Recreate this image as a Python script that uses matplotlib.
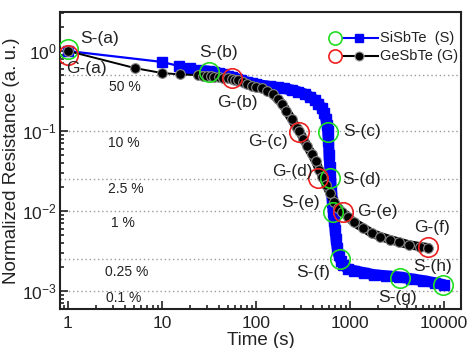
import matplotlib
matplotlib.use("Agg")
import matplotlib.pyplot as plt
from matplotlib.ticker import FixedLocator, NullFormatter, LogLocator
import numpy as np

plt.rcParams['font.family'] = ['Liberation Sans', 'DejaVu Sans']
plt.rcParams['mathtext.fontset'] = 'custom'
plt.rcParams['mathtext.rm'] = 'Liberation Sans'

# ---------------- data ----------------
s_time = [1, 10, 15, 20, 24, 28, 32, 36, 40, 45, 50, 56, 63, 70, 80, 90, 100, 120, 140,
          170, 200, 240, 280, 330, 380, 420, 460, 500, 530, 555, 570, 580, 590, 600, 610,
          620, 635, 650, 665, 680, 695, 710, 730, 760, 800, 850, 950, 1100, 1400, 1800,
          2400, 3300, 4500, 6000, 8000, 10000]
s_res = [1.0, 0.73, 0.65, 0.61, 0.58, 0.565, 0.555, 0.545, 0.53, 0.51, 0.49, 0.47, 0.45,
         0.43, 0.41, 0.395, 0.385, 0.37, 0.36, 0.35, 0.34, 0.325, 0.31, 0.29, 0.265, 0.245,
         0.22, 0.195, 0.17, 0.14, 0.12, 0.10, 0.075, 0.05, 0.035, 0.026, 0.018, 0.013,
         0.0098, 0.0075, 0.0058, 0.0045, 0.0035, 0.0028, 0.0024, 0.0021, 0.0019, 0.0018,
         0.0017, 0.0016, 0.00155, 0.0015, 0.00142, 0.00135, 0.00127, 0.0012]

g_time = [1, 5.2, 10, 15.5, 24, 27, 30, 33, 36, 40, 45, 50, 56, 60, 65, 72, 80, 90, 100,
          115, 130, 150, 170, 190, 210, 240, 270, 290, 320, 350, 390, 430, 470, 510, 560,
          610, 680, 750, 820, 950, 1100, 1370, 1700, 2100, 2660, 3300, 4200, 5500, 6800]
g_res = [1.0, 0.61, 0.53, 0.51, 0.50, 0.49, 0.485, 0.48, 0.475, 0.47, 0.46, 0.455, 0.45,
         0.44, 0.43, 0.41, 0.39, 0.37, 0.355, 0.34, 0.32, 0.29, 0.25, 0.22, 0.18, 0.14,
         0.11, 0.10, 0.08, 0.065, 0.052, 0.042, 0.033, 0.027, 0.021, 0.017, 0.013, 0.011,
         0.0098, 0.0085, 0.0072, 0.0062, 0.0053, 0.0048, 0.0044, 0.0041, 0.0038, 0.0036,
         0.0035]

# reference levels
level_values = [0.5, 0.1, 0.025, 0.01, 0.0025, 0.001]
level_labels = ["50 %", "10 %", "2.5 %", "1 %", "0.25 %", "0.1 %"]

# marked states
s_marks = {"S-(a)": (1, 1.06), "S-(b)": (32, 0.55), "S-(c)": (584, 0.097),
           "S-(d)": (612, 0.026), "S-(e)": (660, 0.0098), "S-(f)": (783, 0.0025),
           "S-(g)": (3400, 0.00145), "S-(h)": (9700, 0.00118)}
g_marks = {"G-(a)": (1, 0.89), "G-(b)": (56, 0.46), "G-(c)": (287, 0.097),
           "G-(d)": (458, 0.026), "G-(e)": (843, 0.0098), "G-(f)": (6800, 0.0036)}

# label text positions
label_pos = {"S-(a)": (2.19, 1.45), "G-(a)": (1.59, 0.61), "S-(b)": (39.5, 0.97),
             "G-(b)": (63, 0.23), "S-(c)": (1342, 0.1), "G-(c)": (134, 0.073),
             "G-(d)": (242, 0.0316), "S-(d)": (1342, 0.0245), "S-(e)": (294, 0.0126),
             "G-(e)": (1936, 0.0098), "G-(f)": (7450, 0.0063), "S-(f)": (403, 0.0017),
             "S-(h)": (7640, 0.002), "S-(g)": (3240, 0.00083)}

x_ticks = [1, 10, 100, 1000, 10000]
x_ticklabels = ["1", "10", "100", "1000", "10000"]

# ---------------- plot ----------------
fig = plt.figure(figsize=(4.76, 3.48), dpi=100)
ax = fig.add_axes([0.126, 0.112, 0.8425, 0.8535])
ax.set_xscale('log')
ax.set_yscale('log')
ax.set_xlim(0.822, 15170)
ax.set_ylim(5.96e-4, 3.07)

txt = '#222222'
for v in level_values:
    ax.axhline(v, color='#999999', ls=(0, (1, 2)), lw=1.0, zorder=1)
lvl_x = [4.04, 3.9, 4.1, 3.8, 4.2, 3.9]
lvl_y = [0.355, 0.071, 0.019, 0.0071, 0.00172, 0.00083]
for x, y, lab in zip(lvl_x, lvl_y, level_labels):
    ax.text(x, y, lab, ha='center', va='center', fontsize=10, color=txt)

st = np.array(s_time); sr = np.array(s_res)
gt = np.array(g_time); gr = np.array(g_res)
blue = '#0000ff'
ax.plot(st, sr, color=blue, lw=1.6, zorder=3)
dense_s = st >= 28
ax.plot(st[dense_s], sr[dense_s], color=blue, lw=8, solid_capstyle='round',
        solid_joinstyle='round', zorder=3)
ax.plot(st, sr, ls='none', marker='s', ms=7, color=blue, mec=blue, zorder=3)

ax.plot(gt, gr, color='black', lw=1.4, zorder=4)
dense_g = gt >= 24
ax.plot(gt[dense_g], gr[dense_g], color='black', lw=6.5, solid_capstyle='round',
        solid_joinstyle='round', zorder=4)
ax.plot(gt, gr, ls='none', marker='o', ms=7, mfc='black', mec='#8a8a8a', mew=0.8,
        zorder=4)

green = '#22dd22'
red = '#ee2020'
for k, (x, y) in s_marks.items():
    ax.plot(x, y, marker='o', ms=14, mfc='none', mec=green, mew=1.2, zorder=6)
for k, (x, y) in g_marks.items():
    ax.plot(x, y, marker='o', ms=14, mfc='none', mec=red, mew=1.2, zorder=6)
for k, (x, y) in label_pos.items():
    ax.text(x, y, k, ha='center', va='center', fontsize=12.5, color=txt, zorder=7)

# legend (manual)
tr = ax.transAxes
for yy, mcol, lcol, mk, lab in [(0.912, green, blue, 's', "SiSbTe  (S)"),
                                (0.852, red, 'black', 'o', "GeSbTe (G)")]:
    ax.plot([0.698, 0.793], [yy, yy], color=lcol, lw=1.5, transform=tr, zorder=8)
    ax.plot(0.686, yy, marker='o', ms=9.5, mfc='white', mec=mcol, mew=1.2,
            transform=tr, zorder=8)
    if mk == 's':
        ax.plot(0.745, yy, marker='s', ms=6, color=lcol, transform=tr, zorder=8)
    else:
        ax.plot(0.745, yy, marker='o', ms=6.5, mfc='black', mec='#a0a0a0', mew=0.8,
                transform=tr, zorder=8)
    ax.text(0.799, yy, lab, ha='left', va='center', fontsize=10.5, color=txt,
            transform=tr, zorder=8)

# axes styling
for side in ['left', 'bottom', 'top', 'right']:
    ax.spines[side].set_linewidth(1.5)
    ax.spines[side].set_color('#222222')
ax.xaxis.set_major_locator(FixedLocator(x_ticks))
ax.set_xticklabels(x_ticklabels)
ax.xaxis.set_minor_locator(LogLocator(base=10, subs=np.arange(2, 10)))
ax.xaxis.set_minor_formatter(NullFormatter())
ax.yaxis.set_major_locator(LogLocator(base=10, numticks=10))
ax.yaxis.set_minor_locator(LogLocator(base=10, subs=np.arange(2, 10), numticks=10))
ax.yaxis.set_minor_formatter(NullFormatter())
ax.tick_params(which='both', direction='in', top=False, right=False, colors='#222222',
               labelsize=12.5, width=1.2)
ax.tick_params(which='major', length=6)
ax.tick_params(which='minor', length=3)
ax.tick_params(axis='x', pad=5)
ax.tick_params(axis='y', pad=2)

ax.set_xlabel("Time (s)", fontsize=13.5, color=txt, labelpad=1)
ax.set_ylabel("Normalized Resistance (a. u.)", fontsize=13.5, color=txt, labelpad=2)

fig.savefig("out.png", dpi=100)
